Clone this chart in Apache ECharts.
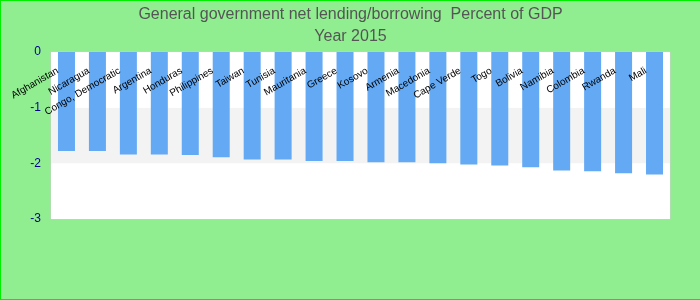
<!DOCTYPE html>
<html><head><meta charset="utf-8">
<script src="https://cdn.jsdelivr.net/npm/echarts@6/dist/echarts.min.js"></script>
<style>
html,body{margin:0;padding:0;overflow:hidden;}
#c{width:699px;height:298px;border:1px solid #00ee00;background:#90ee90;}
</style></head><body>
<div id="c"></div>
<script>
var categories = ["Afghanistan","Nicaragua","Congo, Democratic","Argentina","Honduras","Philippines","Taiwan","Tunisia","Mauritania","Greece","Kosovo","Armenia","Macedonia","Cape Verde","Togo","Bolivia","Namibia","Colombia","Rwanda","Mali"];
var values = [-1.78,-1.78,-1.84,-1.84,-1.85,-1.89,-1.93,-1.93,-1.96,-1.96,-1.98,-1.98,-2.0,-2.02,-2.04,-2.07,-2.13,-2.14,-2.18,-2.2];
var titleText = "General government net lending/borrowing  Percent of GDP";
var subtitleText = "Year 2015";
var chart = echarts.init(document.getElementById('c'));
chart.setOption({
  backgroundColor: '#90ee90',
  title: {
    text: titleText, subtext: subtitleText, left: 'center', top: 1, itemGap: 6,
    textStyle: {fontFamily: 'Liberation Sans, Arial', fontSize: 16, fontWeight: 'normal', color: '#555'},
    subtextStyle: {fontFamily: 'Liberation Sans, Arial', fontSize: 16, color: '#555'}
  },
  grid: {left: 50, top: 51, right: 30, bottom: 80, show: true, backgroundColor: '#fff', borderColor: '#ccc', borderWidth: 1},
  xAxis: {
    type: 'category', data: categories, position: 'top', z: 10,
    axisLine: {show: false}, axisTick: {show: false},
    axisLabel: {interval: 0, rotate: 30, inside: true, color: '#000', fontFamily: 'Liberation Sans, Arial', fontSize: 10, margin: 13, padding: [0, 10, 0, 0]}
  },
  yAxis: {
    type: 'value', min: -3, max: 0, interval: 1,
    axisLine: {show: false}, axisTick: {show: false},
    splitLine: {show: false},
    splitArea: {show: true, areaStyle: {color: ['#ffffff', '#f3f3f3']}},
    axisLabel: {color: '#00008b', fontFamily: 'Liberation Sans, Arial', fontSize: 12, margin: 10}
  },
  series: [{type: 'bar', data: values, barWidth: 17, itemStyle: {color: '#63a9f4'}}]
});
</script></body></html>
